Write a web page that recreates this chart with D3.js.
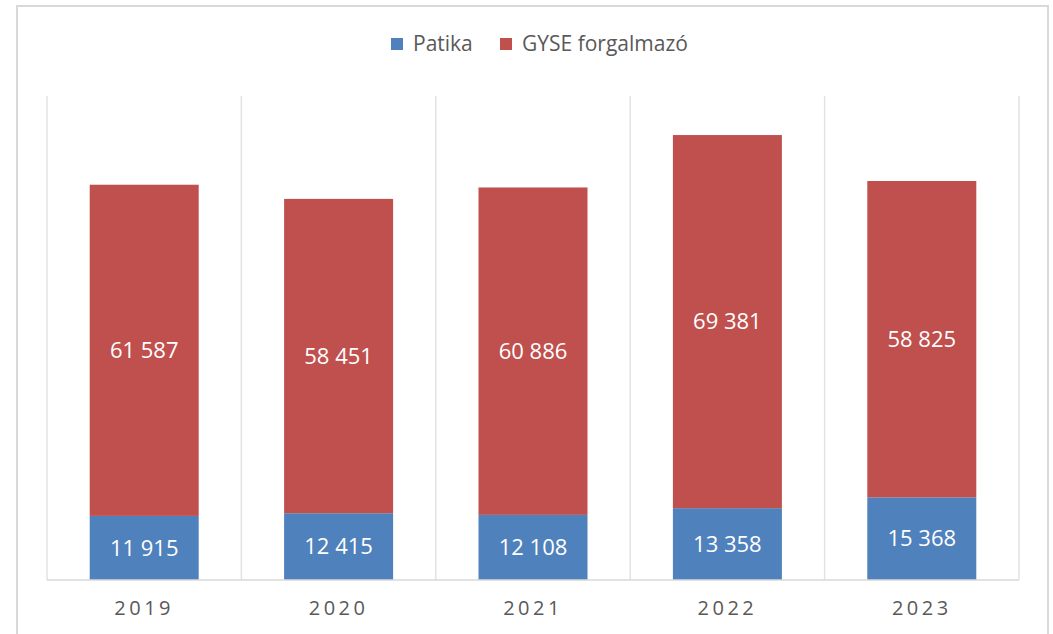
<!DOCTYPE html>
<html>
<head>
<meta charset="utf-8">
<script src="https://cdn.jsdelivr.net/npm/d3@7"></script>
<style>
  body { margin: 0; background: #fff; }
  svg { font-family: "Open Sans", "Noto Sans", sans-serif; }
</style>
</head>
<body>
<div id="chart"></div>
<script>
// adatok
const years = ["2019", "2020", "2021", "2022", "2023"];
const patika = [11915, 12415, 12108, 13358, 15368];
const gyse = [61587, 58451, 60886, 69381, 58825];
const seriesNames = ["Patika", "GYSE forgalmazó"];
const colors = ["#4F81BD", "#C0504D"];

const width = 1053;
const height = 634;
const margin = { top: 96, right: 34, bottom: 54, left: 47 };

const svg = d3.select("#chart").append("svg")
  .attr("width", width)
  .attr("height", height);

// külső keret
svg.append("rect")
  .attr("x", 17).attr("y", 6)
  .attr("width", 1031).attr("height", 640)
  .attr("fill", "none")
  .attr("stroke", "#d9d9d9")
  .attr("stroke-width", 2);

const x = d3.scaleBand().domain(years)
  .range([margin.left, width - margin.right])
  .paddingInner(0).paddingOuter(0);
const y = d3.scaleLinear().domain([0, 90000])
  .range([height - margin.bottom, margin.top]);

// függőleges elválasztó vonalak
const seps = years.map(d => x(d)).concat([x.range()[1]]);
svg.selectAll("line.sep").data(seps).join("line")
  .attr("class", "sep")
  .attr("x1", d => d).attr("x2", d => d)
  .attr("y1", margin.top).attr("y2", y(0))
  .attr("stroke", "#e3e3e3").attr("stroke-width", 1.5);

// halmozott adatok
const table = years.map((yr, i) => ({ year: yr, Patika: patika[i], "GYSE forgalmazó": gyse[i] }));
const stacked = d3.stack().keys(seriesNames)(table);

const barW = 109;
const groups = svg.selectAll("g.series").data(stacked).join("g")
  .attr("class", "series")
  .attr("fill", (d, i) => colors[i]);

groups.selectAll("rect").data(d => d).join("rect")
  .attr("x", d => x(d.data.year) + (x.bandwidth() - barW) / 2)
  .attr("y", d => y(d[1]))
  .attr("width", barW)
  .attr("height", d => y(d[0]) - y(d[1]));

// értékcímkék
const fmt = v => d3.format(",")(v).replace(",", " ");
groups.selectAll("text").data(d => d).join("text")
  .attr("x", d => x(d.data.year) + x.bandwidth() / 2)
  .attr("y", d => (y(d[0]) + y(d[1])) / 2)
  .attr("dy", "0.35em")
  .attr("text-anchor", "middle")
  .attr("fill", "#fff")
  .style("font-size", "22px")
  .text(d => fmt(d[1] - d[0]));

// alapvonal
svg.append("line")
  .attr("x1", margin.left).attr("x2", width - margin.right)
  .attr("y1", y(0)).attr("y2", y(0))
  .attr("stroke", "#d9d9d9").attr("stroke-width", 1.5);

// x tengely feliratai
svg.selectAll("text.year").data(years).join("text")
  .attr("class", "year")
  .attr("x", d => x(d) + x.bandwidth() / 2)
  .attr("y", 608)
  .attr("dy", "0.35em")
  .attr("text-anchor", "middle")
  .attr("fill", "#595959")
  .style("font-size", "20px")
  .style("letter-spacing", "3.5px")
  .text(d => d);

// jelmagyarázat
const legendX = [391, 500];
const legend = svg.selectAll("g.legend").data(seriesNames).join("g")
  .attr("class", "legend")
  .attr("transform", (d, i) => `translate(${legendX[i]}, 44)`);
legend.append("rect")
  .attr("x", 0).attr("y", -6)
  .attr("width", 12).attr("height", 12)
  .attr("fill", (d, i) => colors[i]);
legend.append("text")
  .attr("x", 22).attr("dy", "0.35em")
  .attr("fill", "#595959")
  .style("font-size", "21px")
  .text(d => d);
</script>
</body>
</html>
